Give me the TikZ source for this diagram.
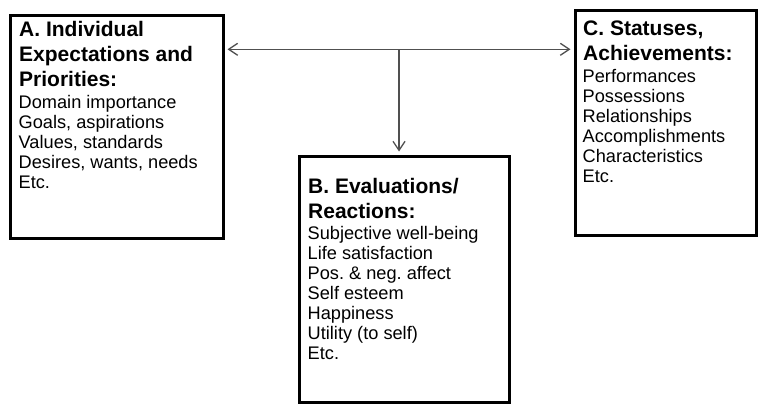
\documentclass[tikz,border=0pt]{standalone}
\usepackage{fontspec}
\setmainfont{Liberation Sans}
\usetikzlibrary{arrows.meta}
\definecolor{arrgray}{HTML}{505050}
\frenchspacing
\tikzset{
  box/.style={draw=black, line width=3pt, inner sep=0pt, outer sep=1.5pt, anchor=north west},
  head/.style={anchor=base west, align=left, inner sep=0pt, font=\fontsize{21}{25}\selectfont\bfseries},
  items/.style={anchor=base west, align=left, inner sep=0pt, font=\fontsize{18.2}{20}\selectfont},
  barb/.tip={Straight Barb[length=9pt,width=12pt,line width=1.3pt]},
  arr/.style={draw=arrgray, line width=1.3pt}
}
\begin{document}
\begin{tikzpicture}[x=1pt,y=-1pt]
\useasboundingbox (0,0) rectangle (764,410);
% boxes
\node[box, minimum width=213pt, minimum height=223.5pt] (A) at (9,13.5) {};
\node[box, minimum width=210.5pt, minimum height=246.5pt] (B) at (297.5,154.5) {};
\node[box, minimum width=181pt, minimum height=224.5pt] (C) at (574,9) {};
% texts (base anchor = baseline of last line)
\node[head] (Ah) at (19,86) {A. Individual\\Expectations and\\Priorities:};
\node[items] (Ai) at (18.5,188) {Domain importance\\Goals, aspirations\\Values, standards\\Desires, wants, needs\\Etc.};
\node[head] (Bh) at (308,218) {B. Evaluations/\\Reactions:};
\node[items] (Bi) at (307.5,359) {Subjective well-being\\Life satisfaction\\Pos. \& neg. affect\\Self esteem\\Happiness\\Utility (to self)\\Etc.};
\node[head] (Ch) at (583,60) {C. Statuses,\\Achievements:};
\node[items] (Ci) at (582.5,182) {Performances\\Possessions\\Relationships\\Accomplishments\\Characteristics\\Etc.};
% connectors
\coordinate (j) at (399,49.3);
\draw[arr, barb-barb, shorten <=2.5pt, shorten >=3.5pt] (A.east |- j) -- (C.west |- j);
\draw[arr, -barb, shorten >=3pt] (j) -- (j |- B.north);
\end{tikzpicture}
\end{document}
